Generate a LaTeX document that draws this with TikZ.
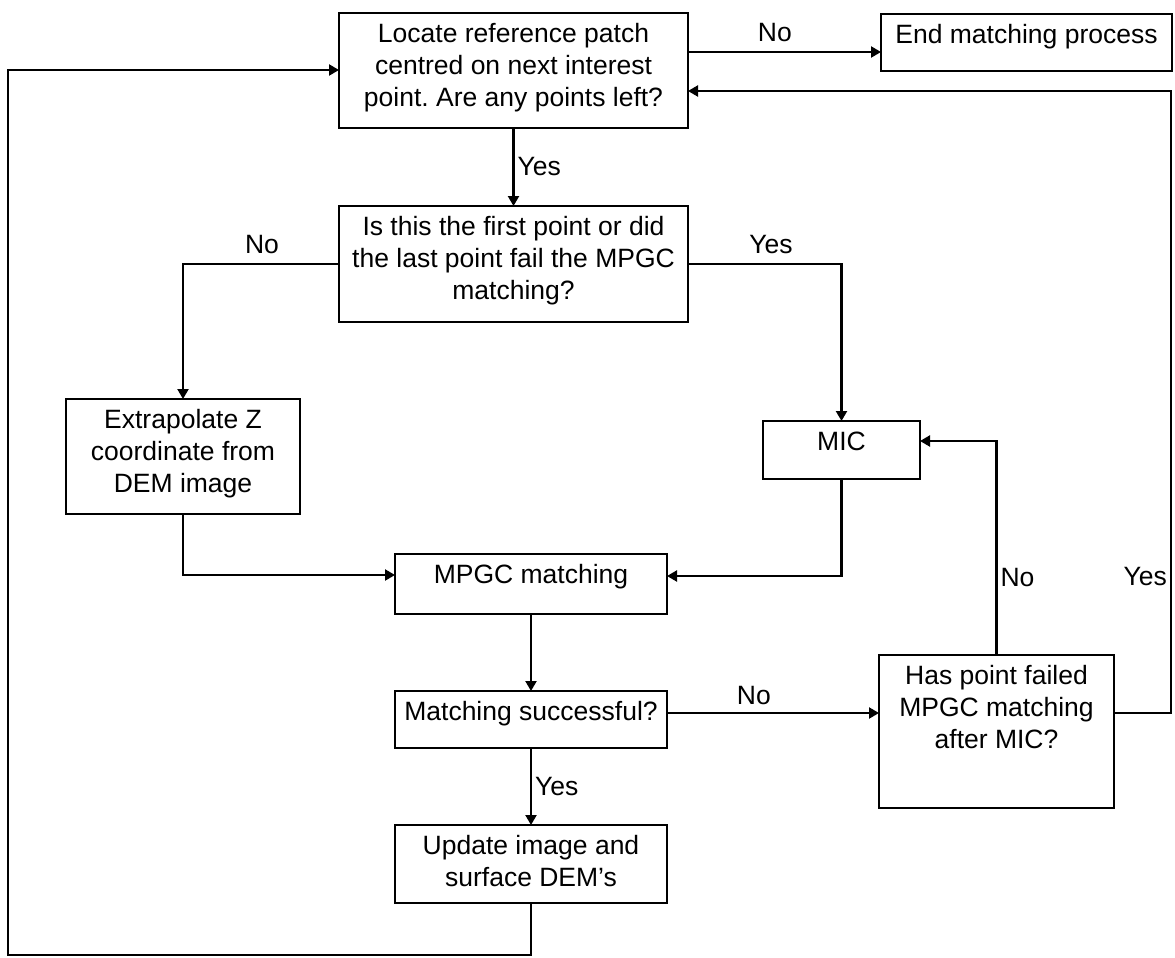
\documentclass[tikz,border=0pt]{standalone}
\usepackage{fontspec}
\setmainfont{Liberation Sans}
\usetikzlibrary{arrows.meta}
\frenchspacing
\newcommand{\bxt}[3]{\parbox[t][#2][t]{#1}{\centering\vspace*{7pt}\strut#3}}
\begin{document}
\begin{tikzpicture}[x=1pt,y=-1pt,
  stepbox/.style={draw, line width=2.2pt, inner sep=0pt, outer sep=0pt, anchor=north west, font=\fontsize{26.5}{32}\selectfont},
  conn/.style={line width=2.2pt, -{Triangle[length=10pt,width=11pt]}},
  lab/.style={font=\fontsize{26.5}{32}\selectfont, inner sep=3pt}]
\useasboundingbox[fill=white] (0,0) rectangle (1175,958);

\node[stepbox] (top) at (339,13) {\bxt{349pt}{115pt}{Locate reference patch\\centred on next interest\\point. Are any points left?}};
\node[stepbox] (end) at (881,14) {\bxt{291pt}{57pt}{End matching process}};
\node[stepbox] (q1) at (339,206) {\bxt{349pt}{116pt}{Is this the first point or did\\the last point fail the MPGC\\matching?}};
\node[stepbox] (extrap) at (66,399) {\bxt{234pt}{115pt}{Extrapolate Z\\coordinate from\\DEM image}};
\node[stepbox] (mic) at (763,421) {\bxt{157pt}{58pt}{MIC}};
\node[stepbox] (mpgc) at (395,554) {\bxt{272pt}{60pt}{MPGC matching}};
\node[stepbox] (match) at (395,691) {\bxt{272pt}{57pt}{Matching successful?}};
\node[stepbox] (has) at (879,655) {\bxt{235pt}{153pt}{Has point failed\\MPGC matching\\after MIC?}};
\node[stepbox] (update) at (395,825) {\bxt{272pt}{78pt}{Update image and\\surface DEM's}};

\coordinate (rx) at (1171,91);
\coordinate (lb) at (8,955);

\draw[conn] ([yshift=-39pt]top.north east) -- node[lab, above=6pt, pos=0.45] {No} ([yshift=-38pt]end.north west);
\draw[conn] (top.south) -- node[lab, right] {Yes} (q1.north);
\draw[conn] (q1.west) -| node[lab, above=6pt, pos=0.247] {No} (extrap.north);
\draw[conn] (q1.east) -| node[lab, above=6pt, pos=0.27] {Yes} (mic.north);
\draw[conn] (extrap.south) |- ([yshift=-21pt]mpgc.north west);
\draw[conn] (mic.south) |- ([yshift=-22pt]mpgc.north east);
\draw[conn] (mpgc.south) -- (match.north);
\draw[conn] ([yshift=-22pt]match.north east) -- node[lab, above=4pt, pos=0.41] {No} ([yshift=-58pt]has.north west);
\draw[conn] (match.south) -- node[lab, right] {Yes} (update.north);
\draw[conn] (has.north) |- node[lab, right, pos=0.18] {No} ([yshift=-20pt]mic.north east);
\draw[conn] ([yshift=-58pt]has.north east) -| node[lab, left, pos=0.61] {Yes} (rx) -- ([yshift=-78pt]top.north east);
\draw[conn] (update.south) |- (lb) |- ([yshift=-57pt]top.north west);
\end{tikzpicture}
\end{document}
